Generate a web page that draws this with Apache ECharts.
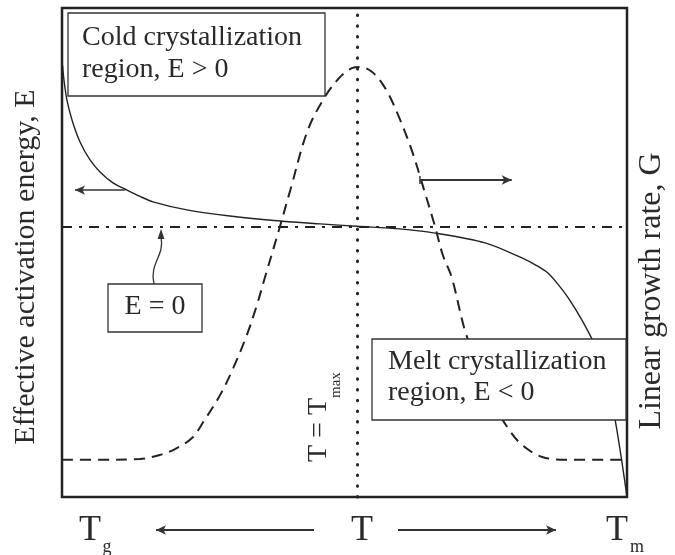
<!DOCTYPE html>
<html>
<head>
<meta charset="utf-8">
<script src="https://cdn.jsdelivr.net/npm/echarts@6/dist/echarts.min.js"></script>
<style>
    html, body { margin: 0; padding: 0; background: #fff; }
    #main { width: 675px; height: 555px; }
</style>
</head>
<body>
<div id="main"></div>
<script>
    // temperature axis runs 0 (Tg) .. 100 (Tm)
    var energyT = [0.09, 0.35, 0.88, 1.77, 3.19, 4.96, 6.73, 9.03, 11.5, 13.8, 16.1, 22.1, 29.7, 38.6, 45.7, 52.2,
        59.8, 66.0, 74.9, 81.4, 84.0, 86.0, 87.8, 89.6, 92.0, 94.3, 96.3, 97.9, 99.1, 100];
    var energyE = [0.739, 0.670, 0.578, 0.487, 0.386, 0.304, 0.249, 0.199, 0.166, 0.137, 0.112, 0.075, 0.047, 0.024, 0.011, 0,
        -0.012, -0.031, -0.076, -0.145, -0.180, -0.214, -0.266, -0.328, -0.429, -0.544, -0.681, -0.887, -1.079, -1.24];

    var growthT = [0, 6.7, 13.8, 17.3, 20.0, 23.0, 25.0, 28.0, 30.3, 32.7, 34.5, 35.9, 38.6, 40.4, 43.5, 46.5, 49.2, 51.3, 52.7,
        54.9, 57.2, 59.5, 61.9, 64.1, 66.0, 67.4, 69.0, 71.3, 74.0, 76.6, 78.9, 81.4, 85.0, 89.6, 100];
    var growthG = [0, 0, 0.002, 0.012, 0.027, 0.055, 0.096, 0.165, 0.233, 0.317, 0.394, 0.463, 0.595, 0.686, 0.839, 0.923, 0.974, 0.997, 1.0,
        0.987, 0.946, 0.877, 0.788, 0.686, 0.595, 0.521, 0.463, 0.330, 0.223, 0.139, 0.081, 0.038, 0.007, 0, 0];

    var tMax = 52.2;
    var tickLabels = ['T', 'T', 'T'];
    var tickSubs = ['g', '', 'm'];

    var serif = '"Liberation Serif", "DejaVu Serif", serif';
    var ink = '#222';
    var textInk = '#2a2a2a';

    function pairs(xs, ys) {
        var out = [];
        for (var i = 0; i < xs.length; i++) {
            out.push([xs[i], ys[i]]);
        }
        return out;
    }

    function txt(x, y, s, size, align, rot) {
        return {
            type: 'text', x: x, y: y, rotation: rot || 0, z: 101,
            style: {
                text: s, font: size + 'px ' + serif, fill: textInk,
                textAlign: align || 'left', textVerticalAlign: 'middle'
            }
        };
    }

    function box(x, y, w, h) {
        return {
            type: 'rect', z: 100,
            shape: {x: x, y: y, width: w, height: h},
            style: {fill: '#fff', stroke: '#333', lineWidth: 1.3}
        };
    }

    // arrow from a to b, head at b
    function arrow(a, b) {
        var s = {symbol: 'none'};
        var e = {symbol: 'arrow', symbolSize: [7, 10]};
        for (var k in a) { s[k] = a[k]; }
        for (var j in b) { e[j] = b[j]; }
        return [s, e];
    }

    var myChart = echarts.init(document.getElementById('main'));
    var option = {
        animation: false,
        backgroundColor: '#fff',
        grid: {
            left: 62, top: 8, right: 48, bottom: 58,
            show: true, borderColor: ink, borderWidth: 2.5, backgroundColor: 'transparent'
        },
        xAxis: {type: 'value', min: 0, max: 100, show: false},
        yAxis: [
            {type: 'value', min: -1.24, max: 1, show: false},
            {type: 'value', min: -0.095, max: 1.15, show: false}
        ],
        series: [
            {
                name: 'E',
                type: 'line',
                yAxisIndex: 0,
                data: pairs(energyT, energyE),
                smooth: 0.3,
                showSymbol: false,
                lineStyle: {color: ink, width: 1.4},
                markLine: {
                    silent: true,
                    symbol: ['none', 'none'],
                    label: {show: false},
                    data: [
                        {xAxis: tMax, lineStyle: {color: ink, width: 3, type: [0.5, 10.2], cap: 'round'}},
                        {yAxis: 0, lineStyle: {color: ink, width: 2, type: [10, 7, 3, 7]}},
                        arrow({coord: [11.2, 0.166]}, {coord: [2.3, 0.166]})
                    ],
                    lineStyle: {color: '#333', width: 1.6, type: 'solid'}
                }
            },
            {
                name: 'G',
                type: 'line',
                yAxisIndex: 1,
                data: pairs(growthT, growthG),
                smooth: 0.35,
                showSymbol: false,
                lineStyle: {color: ink, width: 2, type: [11, 7]},
                markLine: {
                    silent: true,
                    symbol: ['none', 'none'],
                    label: {show: false},
                    lineStyle: {color: '#333', width: 1.8, type: 'solid'},
                    data: [
                        arrow({coord: [63.4, 0.712]}, {coord: [79.6, 0.712]}),
                        arrow({x: 314, y: 530}, {x: 156, y: 530}),
                        arrow({x: 398, y: 530}, {x: 556, y: 530})
                    ]
                }
            }
        ],
        graphic: [
            // axis titles
            txt(26, 267, 'Effective activation energy, E', 30, 'center', Math.PI / 2),
            txt(652, 291, 'Linear growth rate, G', 32, 'center', Math.PI / 2),

            // cold crystallization box
            box(68, 13, 257, 83),
            txt(82, 38, 'Cold crystallization', 28),
            txt(82, 70, 'region, E > 0', 28),

            // melt crystallization box
            box(372, 339, 254, 81),
            txt(388, 362, 'Melt crystallization', 28),
            txt(388, 393, 'region, E < 0', 28),

            // E = 0 label and pointer
            box(108, 284, 94, 48),
            txt(155, 307, 'E = 0', 28, 'center'),
            {
                type: 'bezierCurve', z: 100,
                shape: {x1: 154, y1: 284, cpx1: 149, cpy1: 263, cpx2: 165, cpy2: 256, x2: 161, y2: 237},
                style: {stroke: '#333', lineWidth: 1.3, fill: null}
            },
            {
                type: 'polygon', z: 100,
                shape: {points: [[161, 229], [157.5, 239], [164.5, 239]]},
                style: {fill: '#333'}
            },
            // small start tick of the G arrow
            {
                type: 'line', z: 100,
                shape: {x1: 420, y1: 176, x2: 420, y2: 184},
                style: {stroke: '#333', lineWidth: 1.5}
            },

            // T = Tmax label along the dotted line
            {
                type: 'group', x: 319, y: 462, rotation: Math.PI / 2, z: 101,
                children: [
                    txt(0, 0, 'T = T', 28),
                    txt(64, 17, 'max', 15)
                ]
            },

            // temperature labels under the frame
            txt(90, 531, tickLabels[0], 36, 'center'),
            txt(107, 547, tickSubs[0], 18, 'center'),
            txt(362, 531, tickLabels[1], 36, 'center'),
            txt(617, 531, tickLabels[2], 36, 'center'),
            txt(637, 547, tickSubs[2], 18, 'center')
        ]
    };
    myChart.setOption(option);
</script>
</body>
</html>
